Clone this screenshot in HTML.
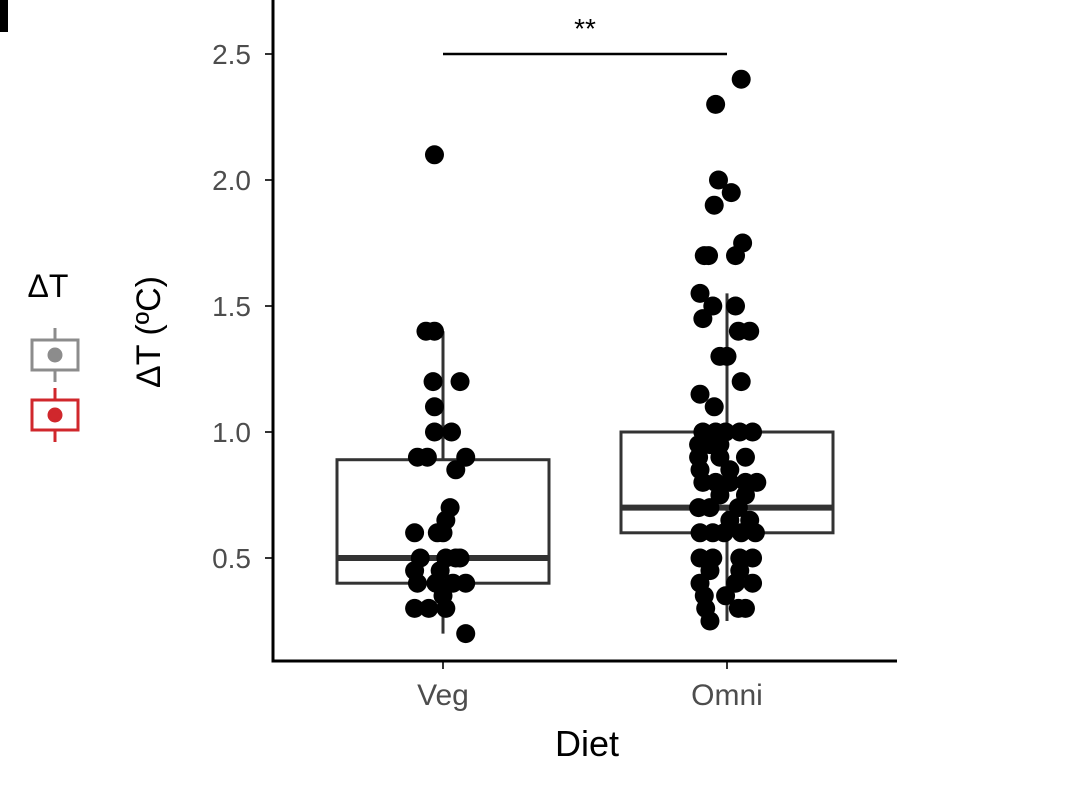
<!DOCTYPE html>
<html><head><meta charset="utf-8"><style>
body{margin:0;background:#fff;}
svg{display:block;font-family:"Liberation Sans",sans-serif;}
</style></head><body>
<svg id="c" width="1068" height="787">
<rect x="0" y="0" width="8" height="32" fill="#000"/>
<g>
<text x="48" y="297" font-size="32" text-anchor="middle">ΔT</text>
<g stroke="#8c8c8c" stroke-width="3" fill="none">
<line x1="55" y1="328" x2="55" y2="340"/><line x1="55" y1="370" x2="55" y2="382"/>
<rect x="32" y="340" width="46" height="30"/><circle cx="55" cy="355" r="6" fill="#8c8c8c"/></g>
<g stroke="#d0272c" stroke-width="3" fill="none">
<line x1="55" y1="388" x2="55" y2="400"/><line x1="55" y1="430" x2="55" y2="442"/>
<rect x="32" y="400" width="46" height="30"/><circle cx="55" cy="415" r="6" fill="#d0272c"/></g>
</g>
<text transform="translate(160,332) rotate(-90)" font-size="34" text-anchor="middle">ΔT (ºC)</text>
<text x="587" y="756" font-size="36" text-anchor="middle">Diet</text>
<g id="plot"></g>
</svg>
<script>
const categories=["Veg","Omni"];
const boxQ1=[0.4,0.6], boxMed=[0.5,0.7], boxQ3=[0.89,1.0], whiskLo=[0.2,0.25], whiskHi=[1.4,1.55];
const yTicks=[0.5,1.0,1.5,2.0,2.5];
const yTickLabels=["0.5","1.0","1.5","2.0","2.5"];
const vegValues=[2.1,1.4,1.4,1.2,1.2,1.1,1.0,1.0,0.9,0.9,0.9,0.85,0.7,0.65,0.6,0.6,0.6,0.5,0.5,0.5,0.5,0.45,0.45,0.4,0.4,0.4,0.4,0.35,0.3,0.3,0.3,0.2];
const vegJitter=[-0.03,-0.06,-0.03,-0.035,0.06,-0.03,-0.03,0.03,-0.09,-0.055,0.08,0.045,0.025,0.01,0,-0.1,-0.02,-0.08,0.01,0.045,0.06,-0.1,-0.01,-0.09,-0.025,0.035,0.08,0,-0.1,-0.05,0.01,0.08];
const omniValues=[2.4,2.3,2.0,1.95,1.9,1.75,1.7,1.7,1.7,1.55,1.5,1.5,1.45,1.4,1.4,1.3,1.3,1.2,1.15,1.1,1.0,1.0,1.0,1.0,1.0,0.95,0.95,0.95,0.9,0.9,0.9,0.85,0.85,0.8,0.8,0.8,0.8,0.8,0.75,0.75,0.7,0.7,0.7,0.65,0.65,0.6,0.6,0.6,0.6,0.6,0.5,0.5,0.5,0.5,0.45,0.45,0.4,0.4,0.4,0.35,0.35,0.3,0.3,0.3,0.25];
const omniJitter=[0.05,-0.04,-0.03,0.015,-0.045,0.055,-0.08,-0.065,0.03,-0.095,-0.05,0.03,-0.085,0.04,0.08,-0.025,0,0.05,-0.095,-0.045,-0.085,-0.04,-0.005,0.045,0.09,-0.1,-0.06,-0.025,-0.1,-0.025,0.065,-0.095,0.01,-0.085,-0.04,0.01,0.065,0.105,-0.025,0.065,-0.1,-0.06,0.04,0.01,0.08,-0.095,-0.05,-0.01,0.05,0.1,-0.095,-0.05,0.045,0.09,-0.06,0.045,-0.095,0.03,0.09,-0.08,-0.005,-0.075,0.04,0.065,-0.06];
const NS="http://www.w3.org/2000/svg";
const g=document.getElementById('plot');
const L=273,R=897,B=661;
const y=v=>684-252*v;
const xc=i=>443+284*i;
const band=284;
function mk(t,a){const e=document.createElementNS(NS,t);for(const k in a)e.setAttribute(k,a[k]);g.appendChild(e);return e;}
yTicks.forEach((t,i)=>{
 const l=mk('line',{x1:L-8,x2:L,y1:y(t),y2:y(t),stroke:'#333','stroke-width':2});
 
 
 const tx=mk('text',{x:L-22,y:y(t)+10,'font-size':28,fill:'#4d4d4d','text-anchor':'end'});
 tx.textContent=yTickLabels[i];
 
 
});
categories.forEach((c,i)=>{
 const l=mk('line',{x1:xc(i),x2:xc(i),y1:B,y2:B+8,stroke:'#333','stroke-width':2});
 
 
 const tx=mk('text',{x:xc(i),y:B+44,'font-size':30,fill:'#4d4d4d','text-anchor':'middle'});
 tx.textContent=c;
 
 
 const w=mk('line',{x1:xc(i),x2:xc(i),y1:y(whiskLo[i]),y2:y(whiskHi[i]),stroke:'#333','stroke-width':3});
 
 
 const bx=mk('rect',{x:xc(i)-106,width:212,y:y(boxQ3[i]),height:y(boxQ1[i])-y(boxQ3[i]),fill:'#fff',stroke:'#333','stroke-width':3});
 
 
 const md=mk('line',{x1:xc(i)-106,x2:xc(i)+106,y1:y(boxMed[i]),y2:y(boxMed[i]),stroke:'#333','stroke-width':6});
 
 
 const lo=mk('line',{x1:xc(i),x2:xc(i),y1:y(boxQ1[i]),y2:y(boxMed[i]),stroke:'#333','stroke-width':3});
 
 
});
[[vegValues,vegJitter],[omniValues,omniJitter]].forEach(([vals,jit],i)=>{
 vals.forEach((v,j)=>{
  const p=mk('circle',{cx:xc(i)+jit[j]*band,cy:y(v),r:9.5,fill:'#000'});
  
  
 });
});
const ax=mk('path',{d:`M${L},0 V${B} H${R}`,fill:'none',stroke:'#000','stroke-width':3});


const sg=mk('line',{x1:xc(0),x2:xc(1),y1:y(2.5),y2:y(2.5),stroke:'#000','stroke-width':2.5});


const st=mk('text',{x:(xc(0)+xc(1))/2,y:y(2.5)-16,'font-size':28,'text-anchor':'middle'});
st.textContent='**';


</script>
</body></html>
